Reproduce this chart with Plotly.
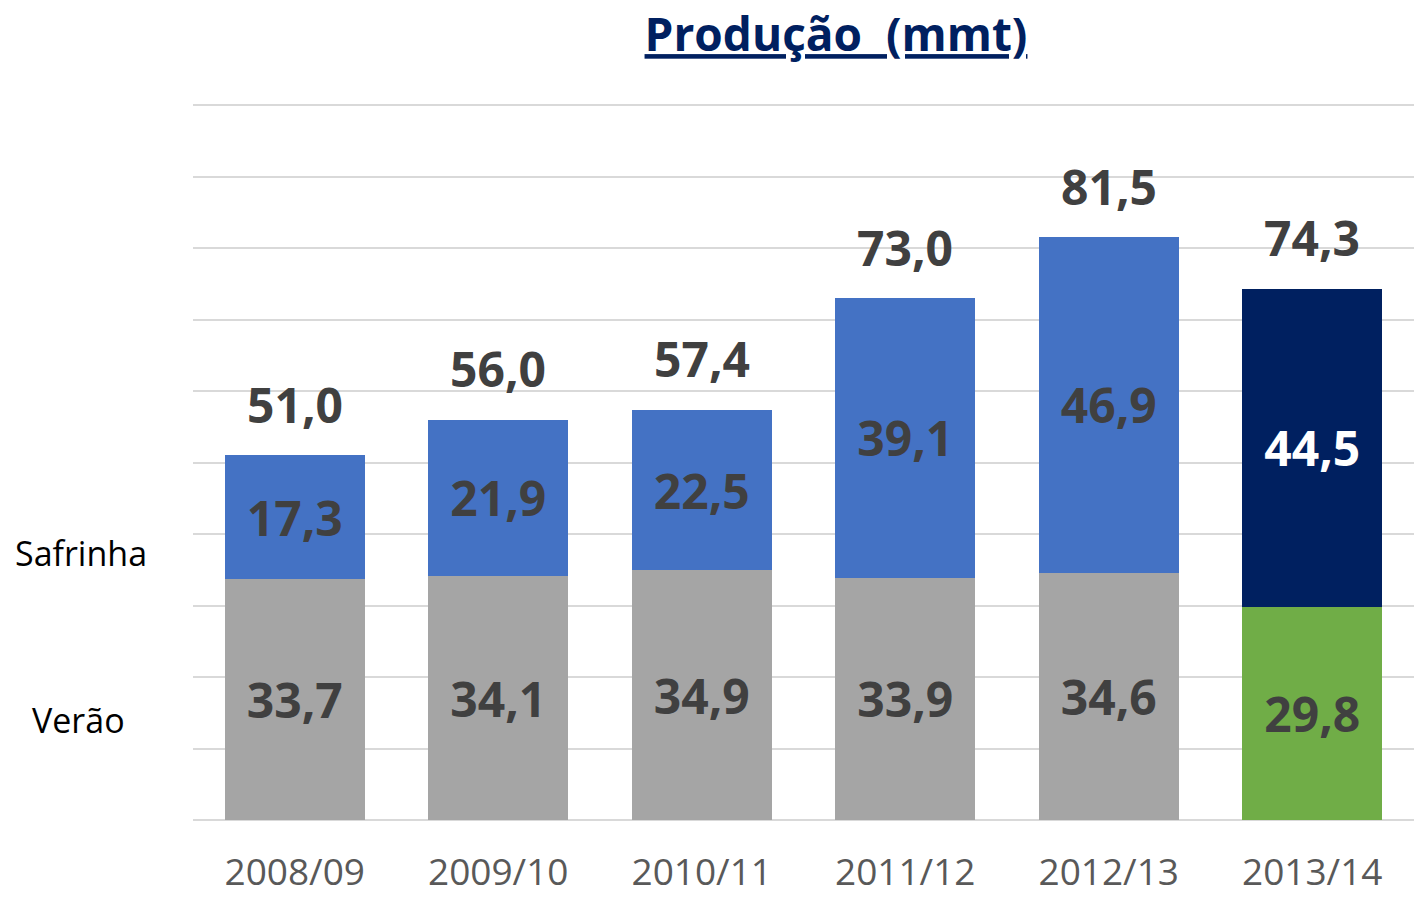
"""Produção (mmt): stacked bars, Verão + Safrinha by crop year."""

import plotly.graph_objects as go

safras = ["2008/09", "2009/10", "2010/11", "2011/12", "2012/13", "2013/14"]
verao = [33.7, 34.1, 34.9, 33.9, 34.6, 29.8]
safrinha = [17.3, 21.9, 22.5, 39.1, 46.9, 44.5]
totais = [51.0, 56.0, 57.4, 73.0, 81.5, 74.3]

FONT = "Open Sans"
TXT = "#404040"
VAL_SIZE = 48

# plot area in pixels
L, R, T, B = 193, 1414, 104, 820


def _br(v: float) -> str:
    """Format with comma decimal separator."""
    return f"{v:.1f}".replace(".", ",")


# last year (estimate) gets its own colours
verao_cores = ["#A5A5A5"] * (len(safras) - 1) + ["#70AD47"]
safrinha_cores = ["#4472C4"] * (len(safras) - 1) + ["#002060"]
safrinha_txt = [TXT] * (len(safras) - 1) + ["#FFFFFF"]

fig = go.Figure()
fig.add_trace(
    go.Bar(
        name="Verão",
        x=safras,
        y=verao,
        marker_color=verao_cores,
        marker_line_width=0,
        text=[_br(v) for v in verao],
        textposition="inside",
        insidetextanchor="middle",
        textangle=0,
        insidetextfont=dict(family=FONT, size=VAL_SIZE, color=TXT, weight="bold"),
        hoverinfo="skip",
    )
)
fig.add_trace(
    go.Bar(
        name="Safrinha",
        x=safras,
        y=safrinha,
        marker_color=safrinha_cores,
        marker_line_width=0,
        text=[_br(v) for v in safrinha],
        textposition="inside",
        insidetextanchor="middle",
        textangle=0,
        insidetextfont=dict(family=FONT, size=VAL_SIZE, color=safrinha_txt, weight="bold"),
        hoverinfo="skip",
    )
)

for s, t in zip(safras, totais):
    fig.add_annotation(
        x=s,
        y=t,
        text=_br(t),
        showarrow=False,
        yanchor="middle",
        yshift=51,
        font=dict(family=FONT, size=VAL_SIZE, color=TXT, weight="bold"),
    )

# series names on the left, in place of a legend (pixel positions)
for nome, px, py in [("Safrinha", 81, 553), ("Verão", 78, 720)]:
    fig.add_annotation(
        x=(px - L) / (R - L),
        y=(B - py) / (B - T),
        xref="paper",
        yref="paper",
        xanchor="center",
        yanchor="middle",
        text=nome,
        showarrow=False,
        font=dict(family=FONT, size=34, color="#000000"),
    )

fig.update_layout(
    width=1414,
    height=897,
    barmode="stack",
    bargap=0.31,
    showlegend=False,
    plot_bgcolor="white",
    paper_bgcolor="white",
    margin=dict(l=L, r=1414 - R, t=T, b=897 - B),
    title=dict(
        text="<u>Produção  (mmt)</u>",
        x=836 / 1414,
        xanchor="center",
        y=1 - 35 / 897,
        yanchor="middle",
        font=dict(family=FONT, size=46, color="#002060", weight="bold"),
    ),
    xaxis=dict(
        tickfont=dict(family=FONT, size=37, color="#595959"),
        ticks="",
        ticklabelstandoff=27,
        showline=False,
        automargin=False,
    ),
    yaxis=dict(
        range=[0, 100.15],
        dtick=10,
        showticklabels=False,
        gridcolor="#D9D9D9",
        gridwidth=2,
        zeroline=True,
        zerolinecolor="#D9D9D9",
        zerolinewidth=2,
        automargin=False,
    ),
)

fig.write_html(
    "out.html",
    config={"displayModeBar": False},
    post_script="document.body.style.margin='0';",
)
